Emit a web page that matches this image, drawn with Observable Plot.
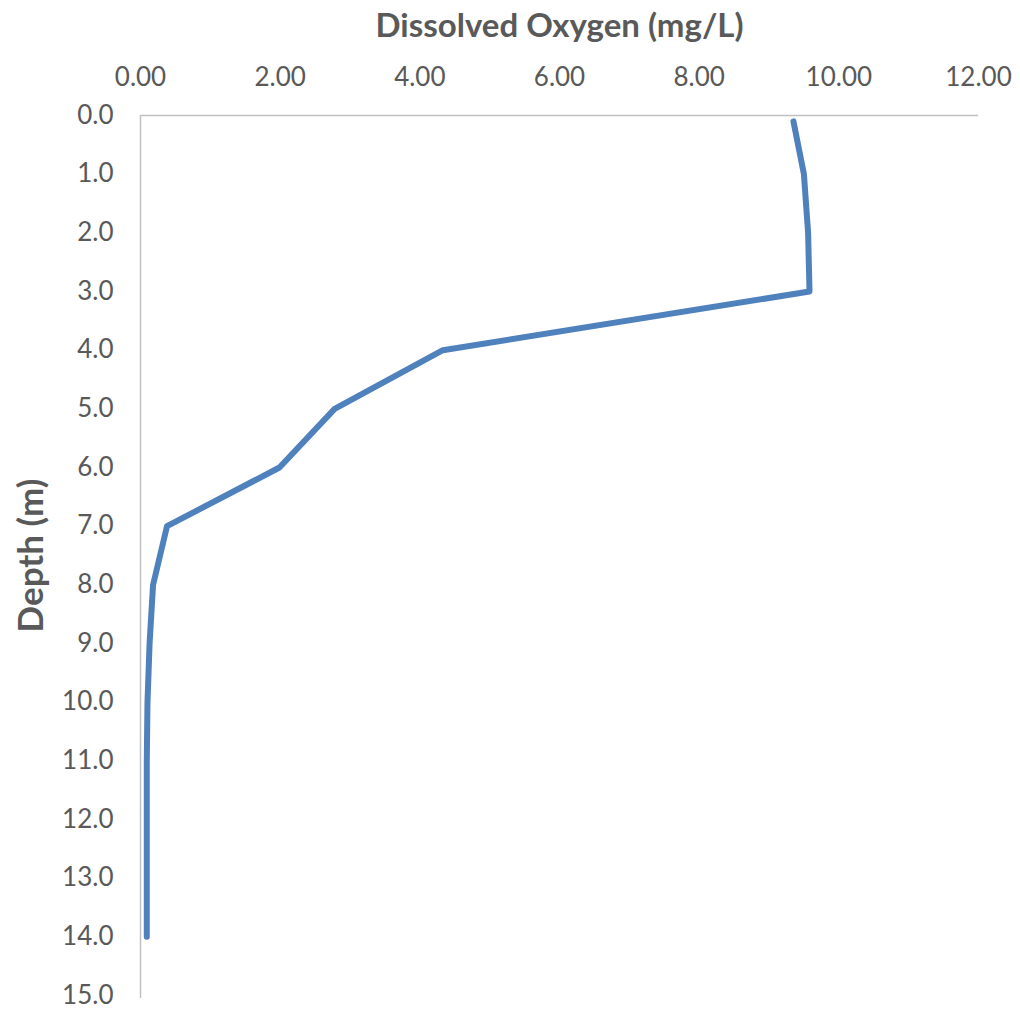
<!DOCTYPE html>
<html>
<head>
<meta charset="utf-8">
<script src="https://cdn.jsdelivr.net/npm/d3@7"></script>
<script src="https://cdn.jsdelivr.net/npm/@observablehq/plot@0.6"></script>
<style>
  html, body { margin: 0; padding: 0; background: #ffffff; }
  #chart { width: 1020px; height: 1013px; }
</style>
</head>
<body>
<div id="chart"></div>
<script>
const depths = [0.1, 1, 2, 3, 4, 5, 6, 7, 8, 9, 10, 11, 12, 13, 14];
const oxygen = [9.35, 9.50, 9.56, 9.58, 4.33, 2.78, 1.99, 0.38, 0.18, 0.13, 0.10, 0.09, 0.09, 0.09, 0.09];
const xTicks = [0, 2, 4, 6, 8, 10, 12];
const yTicks = [0, 1, 2, 3, 4, 5, 6, 7, 8, 9, 10, 11, 12, 13, 14, 15];
const xTitle = "Dissolved Oxygen (mg/L)";
const yTitle = "Depth (m)";

const data = depths.map((d, i) => ({depth: d, oxygen: oxygen[i]}));

const font = "Lato, 'Liberation Sans', sans-serif";
const textColor = "#595959";

const chart = Plot.plot({
  width: 1020,
  height: 1013,
  marginLeft: 140,
  marginRight: 42,
  marginTop: 115,
  marginBottom: 18,
  style: {background: "#ffffff", color: textColor, overflow: "visible"},
  x: {domain: [0, 12]},
  y: {domain: [0, 15], reverse: true},
  marks: [
    Plot.ruleY([0], {stroke: "#c0c0c0", strokeWidth: 1.5}),
    Plot.ruleX([0], {stroke: "#c0c0c0", strokeWidth: 1.5, insetBottom: -3}),
    Plot.axisX({
      anchor: "top", ticks: xTicks, tickSize: 0, tickPadding: 30,
      tickFormat: d => d.toFixed(2), label: null,
      fontSize: 26, fontFamily: font, fill: textColor
    }),
    Plot.axisY({
      anchor: "left", ticks: yTicks, tickSize: 0, tickPadding: 27,
      tickFormat: d => d.toFixed(1), label: null,
      fontSize: 26, fontFamily: font, fill: textColor
    }),
    Plot.line(data, {
      x: "oxygen", y: "depth", stroke: "#4f81bd", strokeWidth: 6,
      strokeLinecap: "round", strokeLinejoin: "round"
    }),
    Plot.text([xTitle], {
      frameAnchor: "top", dy: -89, lineAnchor: "middle", textAnchor: "middle",
      fontSize: 33, fontWeight: "bold", fontFamily: font, fill: textColor
    }),
    Plot.text([yTitle], {
      frameAnchor: "left", dx: -109, rotate: -90, lineAnchor: "middle", textAnchor: "middle",
      fontSize: 35, fontWeight: "bold", fontFamily: font, fill: textColor
    })
  ]
});
document.getElementById("chart").appendChild(chart);
</script>
</body>
</html>
